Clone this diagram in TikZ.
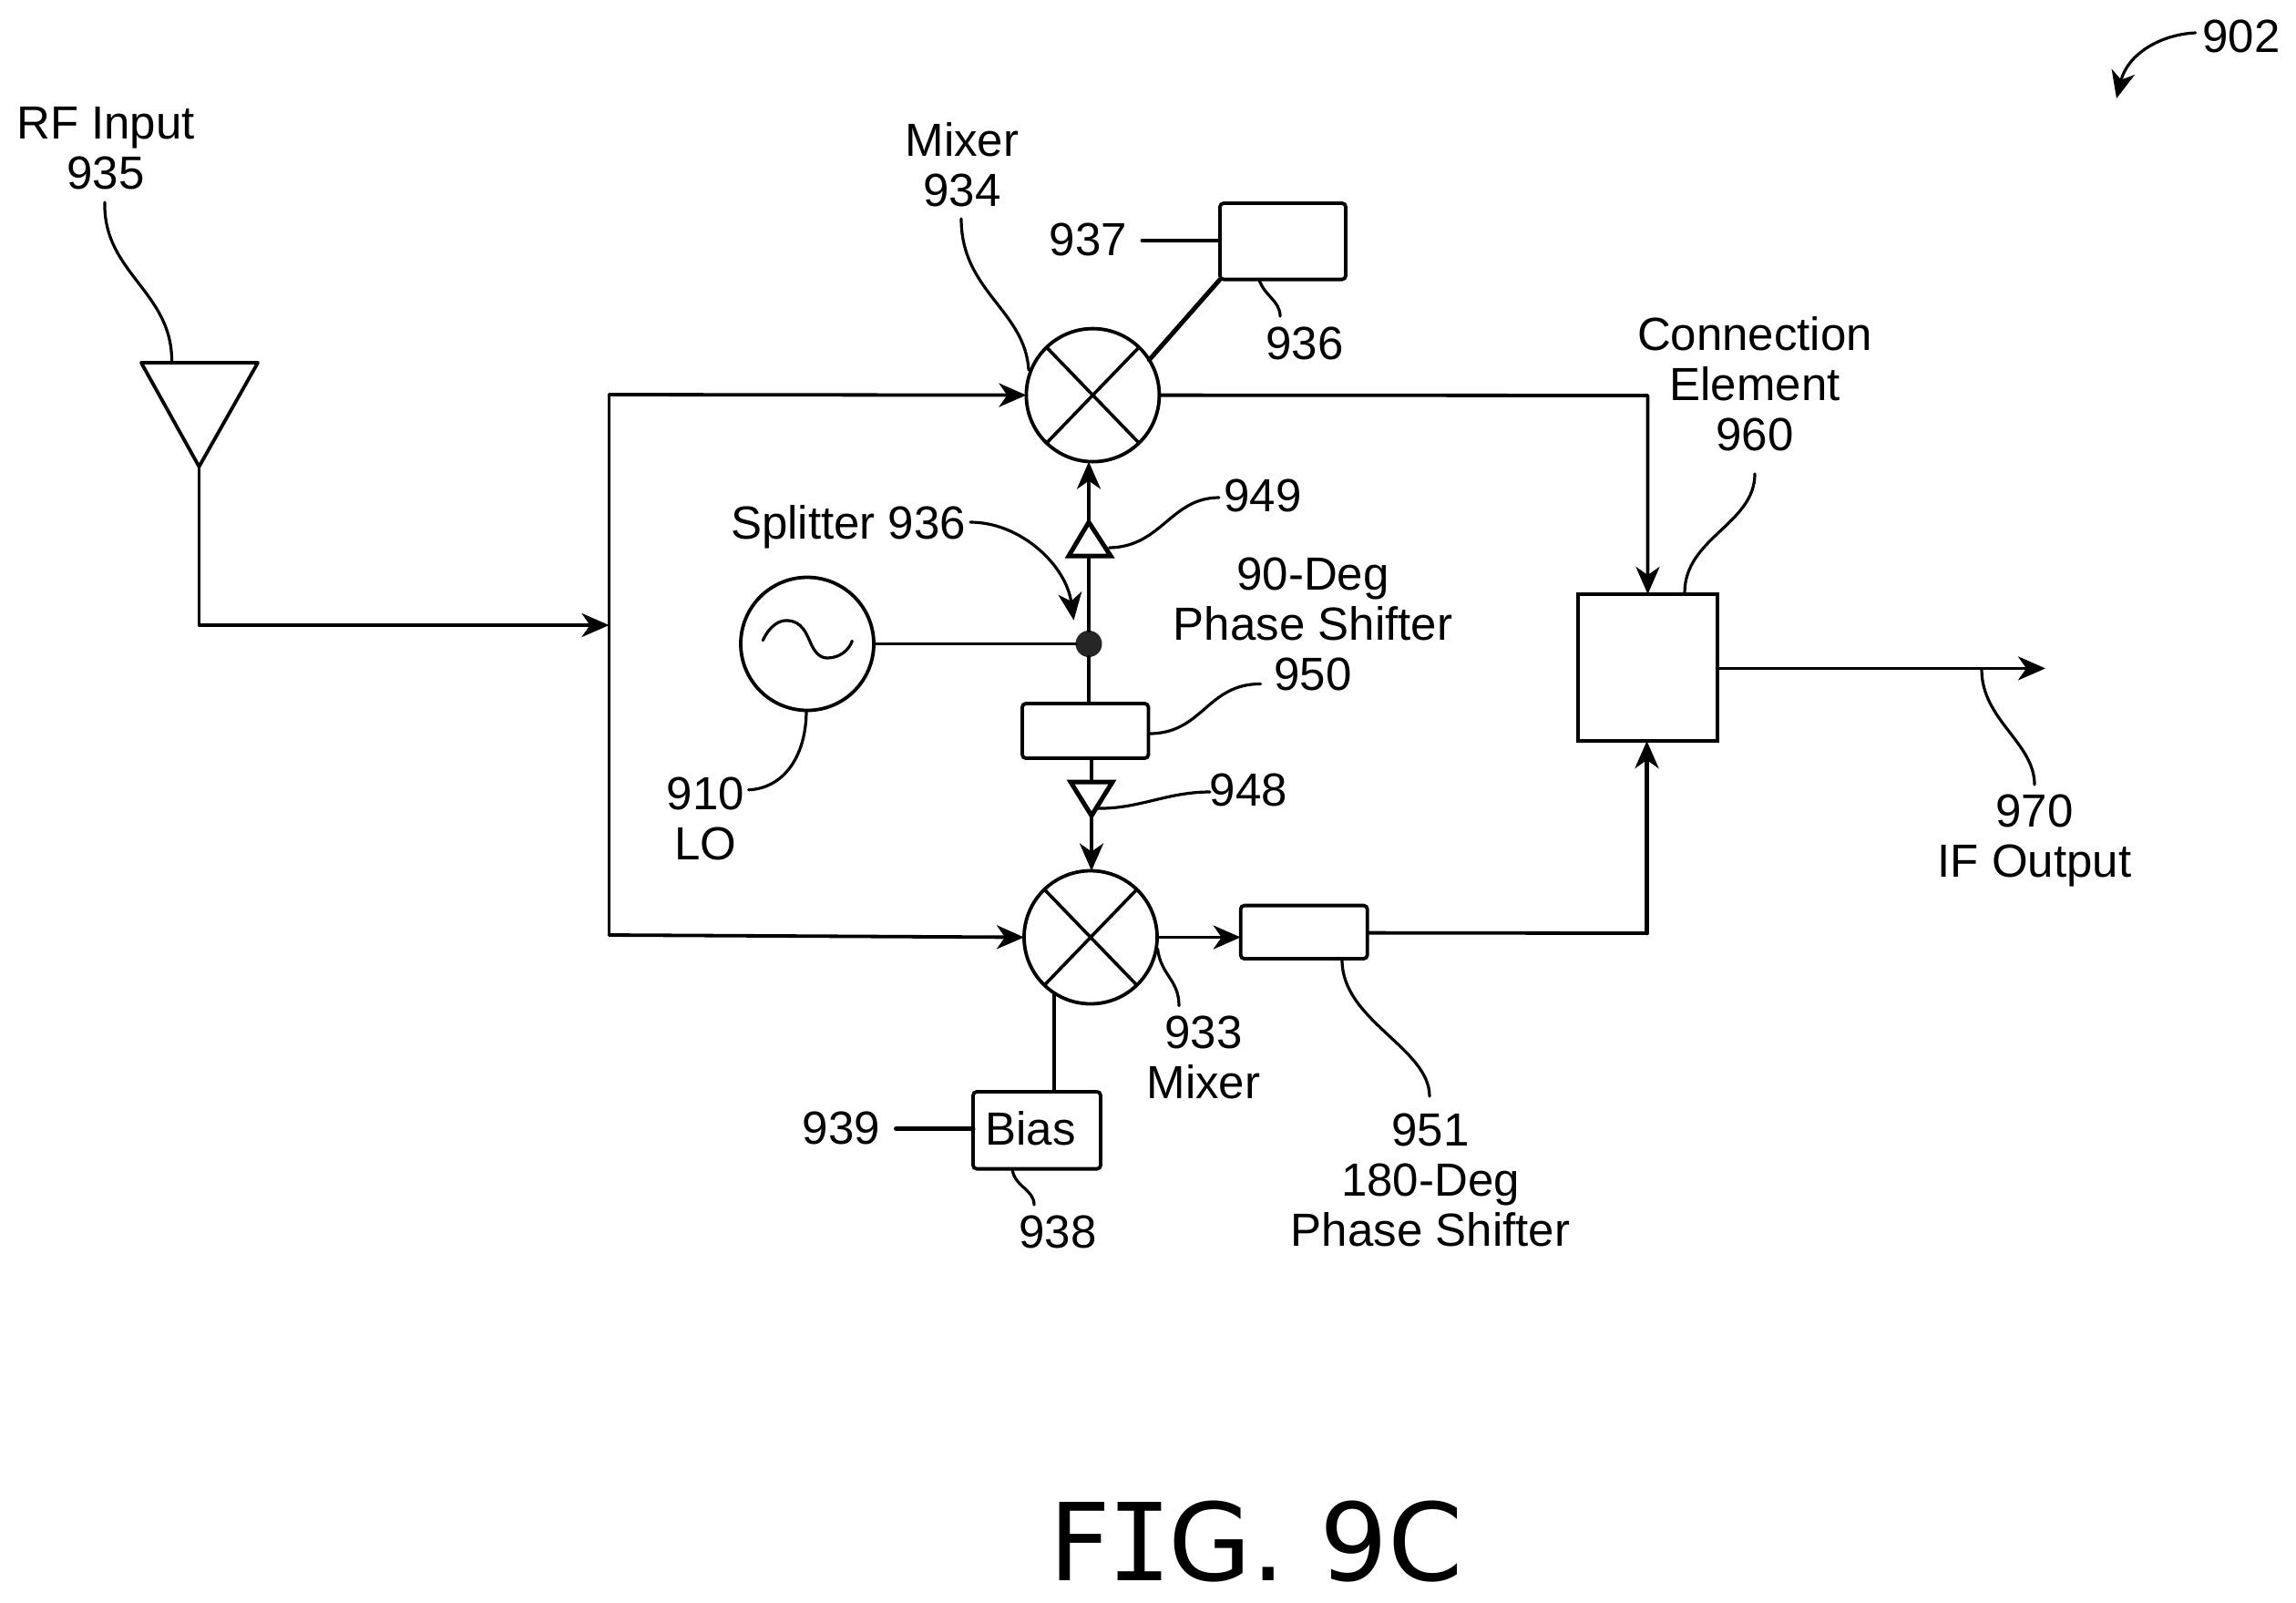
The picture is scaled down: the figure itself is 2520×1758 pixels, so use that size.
\documentclass[tikz,border=0pt]{standalone}
\usepackage{fontspec}
\setmainfont{Liberation Sans}
\newfontfamily\figfont{DejaVu Sans}
\newfontfamily\figmono{DejaVu Sans Mono}
\usetikzlibrary{arrows.meta,calc}
\tikzset{
  wire/.style={line width=1.9pt,line cap=round,line join=round},
  thick wire/.style={line width=2.5pt,line cap=round},
  flow/.style={wire,-{Stealth[length=15pt,width=13pt,inset=4.5pt]}},
  leader/.style={line width=1.6pt,line cap=round},
  leadarrow/.style={leader,-{Stealth[length=15pt,width=13pt,inset=4.5pt]}},
  lab/.style={anchor=north,inner sep=0pt,outer sep=0pt,align=center,font=\fontsize{25.5}{27.5}\selectfont},
  disc/.style={circle,draw,line width=1.9pt,inner sep=0pt,outer sep=0pt,minimum size=73pt},
  block/.style={draw,line width=1.9pt,rounded corners=2pt,inner sep=0pt,outer sep=0pt},
  plainblock/.style={draw,line width=1.9pt,inner sep=0pt,outer sep=0pt},
  sigdot/.style={circle,fill=black!85,inner sep=0pt,outer sep=0pt,minimum size=14.5pt},
}
\begin{document}
\begin{tikzpicture}[x=0.5pt,y=-0.5pt]
\useasboundingbox (0,0) rectangle (2520,1758);
\fill[white] (0,0) rectangle (2520,1758);

% ---- labels
\node[lab] (lrf)  at (116,117)  {RF Input\\935};
\node[lab] (lm34) at (1056,135) {Mixer\\934};
\node[lab] (l937) at (1194.5,245) {937};
\node[lab] (l936) at (1432,359) {936};
\node[lab] (l949) at (1386,526) {949};
\node[lab] (lspl) at (931,555) {Splitter 936};
\node[lab] (l950) at (1441,612) {90-Deg\\Phase Shifter\\950};
\node[lab] (l948) at (1370.5,849) {948};
\node[lab] (l910) at (774.5,852.7) {910\\LO};
\node[lab] (l933) at (1321,1115) {933\\Mixer};
\node[lab] (l939) at (923.5,1220) {939};
\node[lab] (l938) at (1161,1333.7) {938};
\node[lab] (l951) at (1570,1222) {951\\180-Deg\\Phase Shifter};
\node[lab] (l960) at (1926,347.6) {Connection\\Element\\960};
\node[lab] (l970) at (2233,872) {970\\IF Output};
\node[lab] (l902) at (2460,22) {902};
\node[anchor=north,inner sep=0pt] (fig) at (1379,1646) {\fontsize{59}{59}\selectfont\figfont F\kern-2pt{\figmono I}\kern-2pt G. 9C};

% ---- blocks
\node[disc] (m34) at (1199.4,433.6) {};
\node[disc] (m33) at (1197,1028.5) {};
\node[disc] (lo)  at (886,706.5) {};
\node[sigdot] (dot) at (1195,706.5) {};
\node[block,minimum width=69pt,minimum height=41.8pt] (b936) at (1408,264.8) {};
\node[block,minimum width=69.2pt,minimum height=30pt] (b950) at (1191.2,802) {};
\node[block,minimum width=69.5pt,minimum height=29.2pt] (b951) at (1431.2,1022.8) {};
\node[block,minimum width=70pt,minimum height=42.3pt] (bias) at (1138,1240.3) {};
\node[lab] (tbias) at (1131,1220) {Bias};
\node[plainblock,minimum width=76.3pt,minimum height=80.5pt] (ce) at (1808.3,732.5) {};

% mixer crosses
\foreach \m in {m34,m33}{
  \draw[line width=1.8pt] (\m.46) -- (\m.226);
  \draw[line width=1.8pt] (\m.134) -- (\m.314);
}
% oscillator sine
\draw[line width=1.6pt,line cap=round] (837.3,702.7) .. controls (845,686) and (856,680) .. (865,681)
  .. controls (880,682) and (885,695) .. (889,704)
  .. controls (894,716) and (900,722) .. (908,722)
  .. controls (922,722) and (932,713) .. (935.3,703.3);

% ---- named points
\coordinate (aL) at (155,398);
\coordinate (aR) at (283,398);
\coordinate (aA) at (218.5,512);
\coordinate (aT) at (188.5,398);
\coordinate (bend) at (218.5,686);
\coordinate (busIn) at (668.5,686);
\coordinate (busT) at (668.5,433);
\coordinate (busB) at (668.5,1026);
\coordinate (a49) at (1195,573);
\coordinate (a49L) at (1173,610);
\coordinate (a49R) at (1219,610);
\coordinate (a49B) at (1195,610);
\coordinate (a48) at (1198,895);
\coordinate (a48L) at (1175,858);
\coordinate (a48R) at (1221,858);
\coordinate (a48T) at (1198,858);
\coordinate (c937) at (1253.5,264);
\coordinate (c939) at (983.5,1238.6);
\coordinate (r1) at (1808.5,434);
\coordinate (r2) at (1807.5,1024);
\coordinate (outEnd) at (2245,733.4);

% ---- antenna and amplifiers
\draw[wire] (aL) -- (aR) -- (aA) -- cycle;
\draw[thick wire] (a49L) -- (a49R) -- (a49) -- cycle;
\draw[thick wire] (a48L) -- (a48R) -- (a48) -- cycle;

% ---- connectors
\draw[flow] (aA) -- (bend) -- (busIn);
\draw[wire] (busT) -- (busB);
\draw[flow] (busT) -- (m34.west);
\draw[flow] (busB) -- (m33.west);
\draw[wire] (lo.east) -- (dot);
\draw[wire] (dot) -- (a49B);
\draw[flow] (a49) -- (a49 |- m34.south);
\draw[wire] (dot) -- (dot |- b950.north);
\draw[wire] (a48T |- b950.south) -- (a48T);
\draw[flow] (a48) -- (a48 |- m33.north);
\draw[thick wire] (m34.32) -- (b936.south west);
\draw[wire] (c937) -- (c937 -| b936.west);
\draw[wire] (m33.-123) -- (m33.-123 |- bias.north);
\draw[thick wire] (c939) -- (c939 -| bias.west);
\draw[flow] (m34.east) -- (r1) -- (r1 |- ce.north);
\draw[flow] (m33.east) -- (m33.east -| b951.west);
\draw[wire] (b951.east |- 0,1023.6) -- (r2);
\draw[flow,line width=2.3pt] (r2) -- (r2 |- ce.south);
\draw[flow] (ce.east |- outEnd) -- (outEnd);

% ---- leaders
\draw[leader] (115,222) .. controls (113,300) and (190,320) .. (aT);
\draw[leader] (1055,240) .. controls (1055,320) and (1125,340) .. (1129,406);
\draw[leader] (1382,307) .. controls (1388,325) and (1405,330) .. (1405,347);
\draw[leader] (1338,546) .. controls (1285,546) and (1275,600) .. (1217.6,601);
\draw[leadarrow] (1065,573) .. controls (1120,573) and (1170,620) .. (1178.5,680.6);
\draw[leader] (1383.6,750.5) .. controls (1325,750) and (1320,805) .. (1261.5,805);
\draw[leader] (885,779.3) .. controls (885,830) and (860,865) .. (821.7,866.7);
\draw[leader] (1328,869) .. controls (1280,869) and (1250,888) .. (1203.5,887);
\draw[leader] (1270.5,1041) .. controls (1274,1070) and (1294,1075) .. (1294,1103.6);
\draw[leader] (1473,1053.5) .. controls (1473,1120) and (1569,1150) .. (1569,1203);
\draw[leader] (1111,1282.6) .. controls (1113,1302) and (1135,1305) .. (1135,1322);
\draw[leader] (1926,520) .. controls (1926,575) and (1849,590) .. (1849,650.5);
\draw[leader] (2175,734.7) .. controls (2175,790) and (2233,815) .. (2233,861);
\draw[leadarrow] (2409.5,36) .. controls (2370,38) and (2335,60) .. (2323,108);
\end{tikzpicture}
\end{document}
